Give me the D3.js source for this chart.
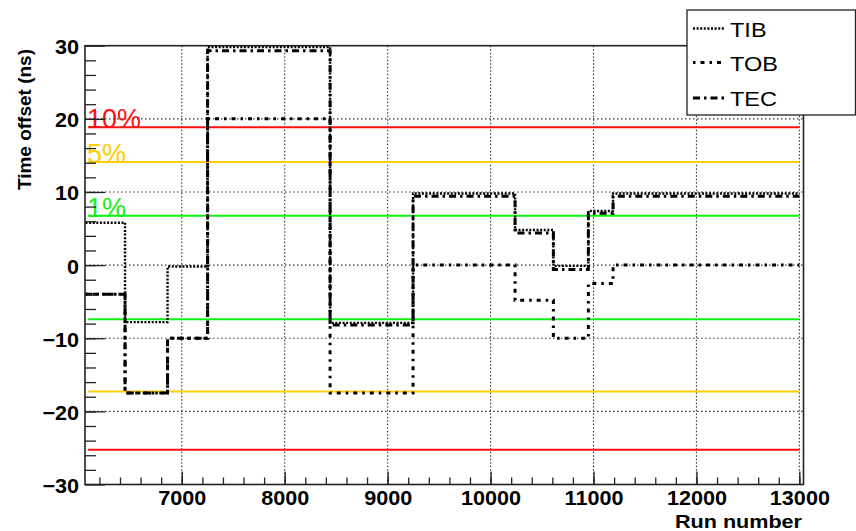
<!DOCTYPE html>
<html>
<meta charset="utf-8">
<script src="https://d3js.org/d3.v7.min.js"></script>
<style>
  body { margin: 0; background: #fff; }
  svg text { font-family: "Liberation Sans", Arial, sans-serif; }
</style>
<body>
<div id="my_dataviz"></div>
<script>

// step edges in run number, one value per step for each layer
var runEdges = [6065, 6449, 6862, 7251, 8441, 9247, 10238, 10610, 10950, 11190, 13000];
var tibOffset = [5.8, -7.8, -0.2, 29.8, -7.9, 9.8, 4.8, -0.1, 7.4, 9.8];
var tobOffset = [-4, -17.5, -10, 20, -17.5, 0, -4.8, -10, -2.5, 0];
var tecOffset = [-4, -17.5, -10, 29.3, -8.2, 9.4, 4.4, -0.6, 7.1, 9.4];

// threshold bands
var limitLabels = ["10%", "5%", "1%"];
var limitHigh = [18.85, 14.1, 6.75];
var limitLow = [-25.25, -17.3, -7.4];
var limitRun = [6090, 13000];

var xTicks = [7000, 8000, 9000, 10000, 11000, 12000, 13000];
var yTicks = [-30, -20, -10, 0, 10, 20, 30];
var legendNames = ["TIB", "TOB", "TEC"];

var limitColors = ["#ff1010", "#ffcc00", "#10f010"];
var dashes = ["2,1.6", "2.5,5,4,5", "7,4,2.5,4"];
var widths = [2.4, 3, 3];

var svg = d3.select("#my_dataviz")
  .append("svg")
    .attr("width", 856)
    .attr("height", 531);

var x = d3.scaleLinear().domain([6060, 13040]).range([85, 803.5]);
var y = d3.scaleLinear().domain([-30, 30]).range([484.5, 45.7]);

// grid
svg.append("g").selectAll("line")
  .data(xTicks)
  .enter().append("line")
    .attr("x1", function(d) { return x(d); })
    .attr("x2", function(d) { return x(d); })
    .attr("y1", y(30)).attr("y2", y(-30))
    .attr("stroke", "#333").attr("stroke-width", 1.1)
    .attr("stroke-dasharray", "1.5,2");
svg.append("g").selectAll("line")
  .data(yTicks.slice(1, -1))
  .enter().append("line")
    .attr("x1", x(6060)).attr("x2", x(13040))
    .attr("y1", function(d) { return y(d); })
    .attr("y2", function(d) { return y(d); })
    .attr("stroke", "#333").attr("stroke-width", 1.1)
    .attr("stroke-dasharray", "1.5,2.5");

// threshold lines
[limitHigh, limitLow].forEach(function(vals) {
  svg.append("g").selectAll("line")
    .data(vals)
    .enter().append("line")
      .attr("x1", x(limitRun[0])).attr("x2", x(limitRun[1]))
      .attr("y1", function(d) { return y(d); })
      .attr("y2", function(d) { return y(d); })
      .attr("stroke", function(d, i) { return limitColors[i]; })
      .attr("stroke-width", 2);
});
svg.append("g").selectAll("text")
  .data(limitLabels)
  .enter().append("text")
    .attr("x", 87)
    .attr("y", function(d, i) { return y(limitHigh[i]) + 1; })
    .attr("fill", function(d, i) { return limitColors[i]; })
    .style("font-size", "27px")
    .text(function(d) { return d; });

// step lines
var line = d3.line()
  .x(function(d) { return x(d[0]); })
  .y(function(d) { return y(d[1]); })
  .curve(d3.curveStepAfter);

function steps(vals) {
  var pts = vals.map(function(v, i) { return [runEdges[i], v]; });
  pts.push([runEdges[runEdges.length - 1], vals[vals.length - 1]]);
  return pts;
}

[tobOffset, tecOffset, tibOffset].forEach(function(vals) {
  var k = vals === tibOffset ? 0 : (vals === tobOffset ? 1 : 2);
  svg.append("path")
    .attr("d", line(steps(vals)))
    .attr("fill", "none")
    .attr("stroke", "#000")
    .attr("stroke-width", widths[k])
    .attr("stroke-dasharray", dashes[k]);
});

// frame
svg.append("rect")
  .attr("x", x(6060)).attr("y", y(30))
  .attr("width", x(13040) - x(6060)).attr("height", y(-30) - y(30))
  .attr("fill", "none").attr("stroke", "#222").attr("stroke-width", 1.6);

// axes, ticks inside like ROOT
var xAxis = svg.append("g")
  .attr("transform", "translate(0," + y(-30) + ")")
  .call(d3.axisBottom(x).tickValues(xTicks).tickSize(-13).tickSizeOuter(0)
    .tickPadding(6).tickFormat(d3.format("d")));
svg.append("g")
  .attr("transform", "translate(0," + y(-30) + ")")
  .call(d3.axisBottom(x).tickValues(d3.range(6200, 13001, 200)).tickSize(-7).tickSizeOuter(0).tickFormat(""));
var yAxis = svg.append("g")
  .attr("transform", "translate(" + x(6060) + ",0)")
  .call(d3.axisLeft(y).tickValues(yTicks).tickSize(-20).tickSizeOuter(0).tickPadding(5.5));
svg.append("g")
  .attr("transform", "translate(" + x(6060) + ",0)")
  .call(d3.axisLeft(y).tickValues(d3.range(-28, 29, 2)).tickSize(-11).tickSizeOuter(0).tickFormat(""));

svg.selectAll(".domain").remove();
svg.selectAll(".tick line").attr("stroke", "#222").attr("stroke-width", 1.3);
svg.selectAll(".tick text")
  .attr("fill", "#000")
  .style("font-family", "'Liberation Sans', Arial, sans-serif")
  .style("font-weight", "bold")
  .style("font-size", "20px")
  .attr("transform", "scale(1.08,1)");
yAxis.selectAll(".tick text").attr("dy", "0.4em");

// axis titles
svg.append("text")
  .attr("x", 802).attr("y", 528)
  .attr("text-anchor", "end")
  .attr("textLength", 127).attr("lengthAdjust", "spacingAndGlyphs")
  .style("font-size", "18px").style("font-weight", "bold")
  .text("Run number");
svg.append("text")
  .attr("transform", "translate(31,49) rotate(-90)")
  .attr("text-anchor", "end")
  .style("font-size", "19px").style("font-weight", "bold")
  .text("Time offset (ns)");

// legend
var legend = svg.append("g");
legend.append("rect")
  .attr("x", 687).attr("y", 10).attr("width", 168.5).attr("height", 105)
  .attr("fill", "#fff").attr("stroke", "#222").attr("stroke-width", 1.3);
var legendY = [28.5, 62.5, 98];
legend.selectAll("line")
  .data(legendNames)
  .enter().append("line")
    .attr("x1", 693).attr("x2", 724)
    .attr("y1", function(d, i) { return legendY[i]; })
    .attr("y2", function(d, i) { return legendY[i]; })
    .attr("stroke", "#000")
    .attr("stroke-width", function(d, i) { return widths[i]; })
    .attr("stroke-dasharray", function(d, i) { return dashes[i]; });
legend.selectAll("text")
  .data(legendNames)
  .enter().append("text")
    .attr("transform", function(d, i) { return "translate(730," + (legendY[i] + 8) + ") scale(1.12,1)"; })
    .style("font-size", "21px")
    .text(function(d) { return d; });

</script>
</body>
</html>
